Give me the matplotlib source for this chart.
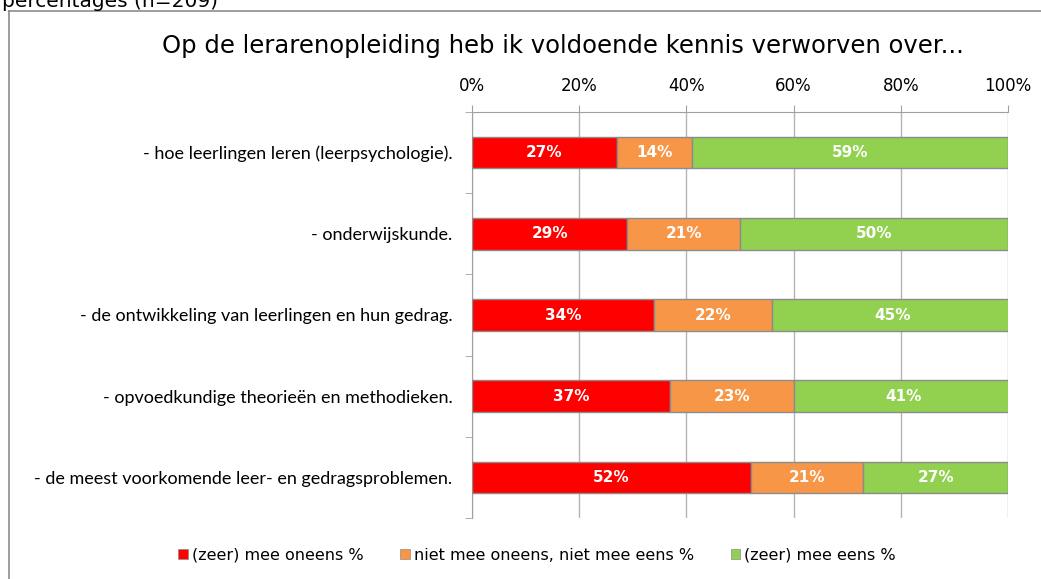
import numpy as np
import matplotlib.pyplot as plt
from matplotlib.lines import Line2D
from matplotlib.patches import Patch

items = [
    '- hoe leerlingen leren (leerpsychologie).',
    '- onderwijskunde.',
    '- de ontwikkeling van leerlingen en hun gedrag.',
    '- opvoedkundige theorieën en methodieken.',
    '- de meest voorkomende leer- en gedragsproblemen.',
]
oneens = [27, 29, 34, 37, 52]
neutraal = [14, 21, 22, 23, 21]
eens = [59, 50, 45, 41, 27]

series = ['(zeer) mee oneens %', 'niet mee oneens, niet mee eens %', '(zeer) mee eens %']
colors = ['#FF0000', '#F79646', '#92D050']
xticks = [0, 20, 40, 60, 80, 100]

fig = plt.figure(figsize=(10.41, 5.79), dpi=100)
ax = fig.add_axes([472 / 1041, 1 - 518 / 579, 536 / 1041, 406 / 579])

y = np.arange(len(items))
left = np.zeros(len(items))
for vals, col, name in zip([oneens, neutraal, eens], colors, series):
    vals = np.array(vals)
    ax.barh(y, vals, left=left, height=0.39, color=col,
            edgecolor='#8c8c8c', linewidth=1, label=name, zorder=3)
    for yi, l, v in zip(y, left, vals):
        ax.text(l + v / 2, yi, f'{v}%', ha='center', va='center',
                color='white', fontweight='bold', fontsize=11, zorder=4)
    left = left + vals

ax.set_xlim(0, 100)
ax.set_ylim(len(items) - 0.5, -0.5)

ax.xaxis.tick_top()
ax.set_xticks(xticks)
ax.set_xticklabels([f'{t}%' for t in xticks], fontsize=12)
ax.tick_params(axis='x', length=5, color='#a0a0a0', pad=7)
ax.grid(axis='x', color='#b4b4b4', linewidth=1, zorder=0)

ax.set_yticks(y)
ax.set_yticklabels(items, fontsize=13, family='Lato')
ax.set_yticks(np.arange(len(items) + 1) - 0.5, minor=True)
ax.tick_params(axis='y', which='major', length=0, pad=14)
ax.tick_params(axis='y', which='minor', length=5, color='#a0a0a0')

for s in ['bottom', 'right']:
    ax.spines[s].set_visible(False)
for s in ['top', 'left']:
    ax.spines[s].set_color('#a0a0a0')

handles = [Patch(facecolor=c, edgecolor='#8c8c8c', linewidth=0.5) for c in colors]
fig.legend(handles, series, loc='center', bbox_to_anchor=(537 / 1041, 1 - 555 / 579),
           ncol=3, frameon=False, fontsize=11.5, handlelength=0.6,
           handleheight=0.6, handletextpad=0.25, columnspacing=2.3)

# frame around the chart area
fig.add_artist(Line2D([9 / 1041, 9 / 1041], [0, 1 - 11 / 579], color='#8c8c8c', lw=1.2))
fig.add_artist(Line2D([9 / 1041, 1], [1 - 11 / 579, 1 - 11 / 579], color='#8c8c8c', lw=1.2))

fig.text(0.002, 1 - 7 / 579, 'percentages (n=209)', fontsize=14.5, va='baseline')
fig.text(563 / 1041, 1 - 53 / 579, 'Op de lerarenopleiding heb ik voldoende kennis verworven over...',
         fontsize=17.5, ha='center', va='baseline')

fig.savefig('out.png', dpi=100)
